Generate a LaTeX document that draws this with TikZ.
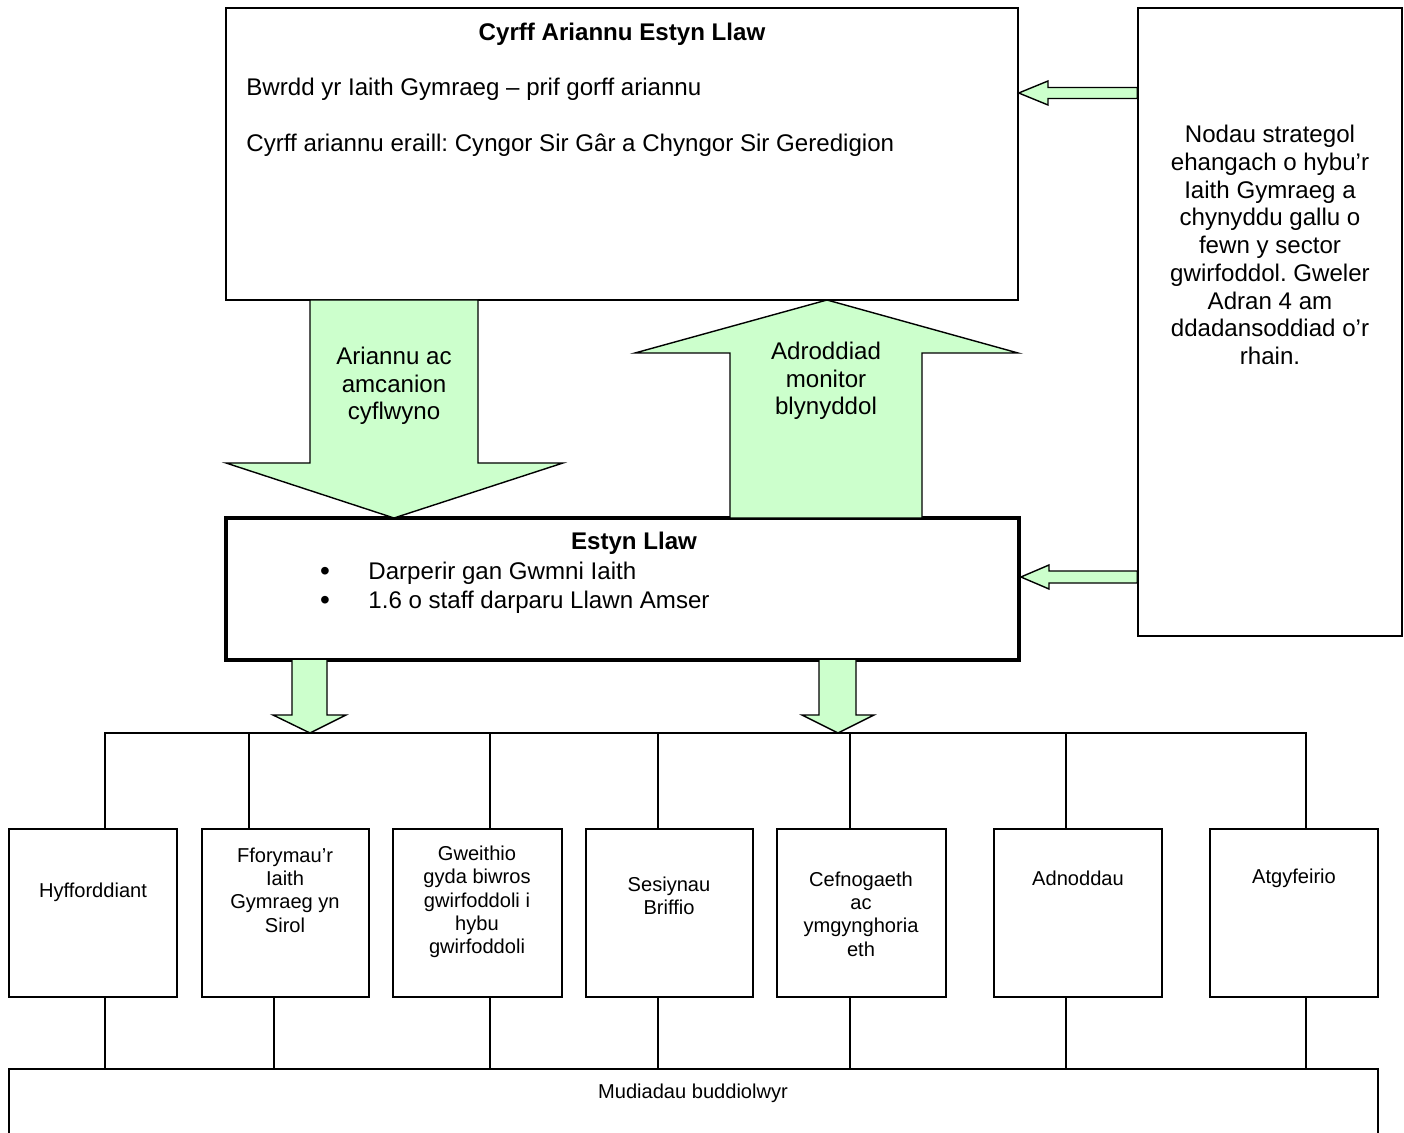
\documentclass[tikz,border=0pt]{standalone}
\usepackage{fontspec}
\setmainfont{Liberation Sans}
\usepackage{tikz}
\usetikzlibrary{calc}
\usetikzlibrary{positioning, fit}
\definecolor{paleGreen}{HTML}{CCFFCC}
\frenchspacing
\tikzset{
	box/.style={draw, line width=0.7pt, inner sep=0pt},
	thickbox/.style={draw, line width=1.9pt, inner sep=0pt},
	blockarrow/.style={draw, fill=paleGreen, line width=0.7pt, line join=miter},
	link/.style={line width=0.7pt},
	txt/.style={font=\fontsize{12}{13.8}\selectfont, align=center, inner sep=0pt},
	boldtxt/.style={font=\fontsize{12}{13.8}\selectfont\bfseries, inner sep=0pt},
	dottxt/.style={font=\fontsize{14}{14}\selectfont, inner sep=0pt},
	smalltxt/.style={font=\fontsize{10}{11.6}\selectfont, align=center, inner sep=0pt}
}

\begin{document}
\begin{tikzpicture}[x=0.0175cm, y=-0.0175cm]
			\useasboundingbox (0,0) rectangle (1404,1133);
			\node[box, fit={(226,8) (1018,300)}] (fund) {};
			\node[box, fit={(1138,8) (1402,636)}] (aims) {};
			\node[thickbox, fit={(226,518) (1019,660)}] (estyn) {};
			\node[box, fit={(9,829) (177,997)}] (b1) {};
			\node[box, fit={(202,829) (369,997)}] (b2) {};
			\node[box, fit={(393,829) (562,997)}] (b3) {};
			\node[box, fit={(586,829) (753,997)}] (b4) {};
			\node[box, fit={(777,829) (946,997)}] (b5) {};
			\node[box, fit={(994,829) (1162,997)}] (b6) {};
			\node[box, fit={(1210,829) (1378,997)}] (b7) {};
			\node[box, fit={(9,1069) (1378,1160)}] (benef) {};
			\node[boldtxt] (fundTitle) at (622,34) {Cyrff Ariannu Estyn Llaw};
			\node[txt, anchor=west] (fundMain) at (246,89) {Bwrdd yr Iaith Gymraeg – prif gorff ariannu};
			\node[txt, anchor=west] (fundOther) at (246,145) {Cyrff ariannu eraill: Cyngor Sir Gâr a Chyngor Sir Geredigion};
			\node[txt] (aimsText) at (1270,245) {Nodau strategol\\ehangach o hybu’r\\Iaith Gymraeg a\\chynyddu gallu o\\fewn y sector\\gwirfoddol. Gweler\\Adran 4 am\\ddadansoddiad o’r\\rhain.};
			\draw[blockarrow] (310,300) -- (310,463) -- (226,463) -- (394,518) -- (563,463) -- (478,463) -- (478,300) -- cycle;
			\draw[blockarrow] (730,518) -- (730,353) -- (635,353) -- (827,300) -- (1018,353) -- (922,353) -- (922,518) -- cycle;
			\node[txt] (fundingText) at (394,386) {Ariannu ac\\amcanion\\cyflwyno};
			\node[txt] (reportText) at (826,381) {Adroddiad\\monitor\\blynyddol};
			\draw[blockarrow] (aims.west |- 0,87.5) -- (1048,87.5) -- (1048,81) -- (fund.east |- 0,93) -- (1048,105) -- (1048,98.5) -- (aims.west |- 0,98.5) -- cycle;
			\draw[blockarrow] (aims.west |- 0,571) -- (1049,571) -- (1049,565) -- (estyn.east |- 0,577) -- (1049,589) -- (1049,583) -- (aims.west |- 0,583) -- cycle;
			\node[boldtxt] (estynTitle) at (634,543) {Estyn Llaw};
			\node[dottxt] (dot1) at (325,574) {\textbullet};
			\node[dottxt] (dot2) at (325,603) {\textbullet};
			\node[txt, anchor=west] (item1) at (368,573) {Darperir gan Gwmni Iaith};
			\node[txt, anchor=west] (item2) at (368,602) {1.6 o staff darparu Llawn Amser};
			\draw[blockarrow] (292,660) -- (292,715) -- (273,715) -- (310,733) -- (346,715) -- (327,715) -- (327,660);
			\draw[blockarrow] (819,660) -- (819,715) -- (802,715) -- (838,733) -- (874,715) -- (856,715) -- (856,660);
			\coordinate (bus1) at (105,733);
			\coordinate (bus2) at (249,733);
			\coordinate (bus3) at (490,733);
			\coordinate (bus4) at (658,733);
			\coordinate (bus5) at (850,733);
			\coordinate (bus6) at (1066,733);
			\coordinate (bus7) at (1306,733);
			\draw[link] (bus1 |- b1.north) -- (bus1) -- (bus7) -- (bus7 |- b7.north);
			\draw[link] (bus2) -- (bus2 |- b2.north);
			\draw[link] (bus3) -- (bus3 |- b3.north);
			\draw[link] (bus4) -- (bus4 |- b4.north);
			\draw[link] (bus5) -- (bus5 |- b5.north);
			\draw[link] (bus6) -- (bus6 |- b6.north);
			\draw[link] (b1.south -| 105,0) -- (105,0 |- benef.north);
			\draw[link] (b2.south -| 274,0) -- (274,0 |- benef.north);
			\draw[link] (b3.south -| 490,0) -- (490,0 |- benef.north);
			\draw[link] (b4.south -| 658,0) -- (658,0 |- benef.north);
			\draw[link] (b5.south -| 850,0) -- (850,0 |- benef.north);
			\draw[link] (b6.south -| 1066,0) -- (1066,0 |- benef.north);
			\draw[link] (b7.south -| 1306,0) -- (1306,0 |- benef.north);
			\node[smalltxt] (t1) at (93,892) {Hyfforddiant};
			\node[smalltxt] (t2) at (285,890) {Fforymau’r\\Iaith\\Gymraeg yn\\Sirol};
			\node[smalltxt] (t3) at (477,902) {Gweithio\\gyda biwros\\gwirfoddoli i\\hybu\\gwirfoddoli};
			\node[smalltxt] (t4) at (669,896) {Sesiynau\\Briffio};
			\node[smalltxt] (t5) at (861,914) {Cefnogaeth\\ac\\ymgynghoria\\eth};
			\node[smalltxt] (t6) at (1078,878) {Adnoddau};
			\node[smalltxt] (t7) at (1294,878) {Atgyfeirio};
			\node[smalltxt] (benefText) at (693,1093) {Mudiadau buddiolwyr};
\end{tikzpicture}
\end{document}
